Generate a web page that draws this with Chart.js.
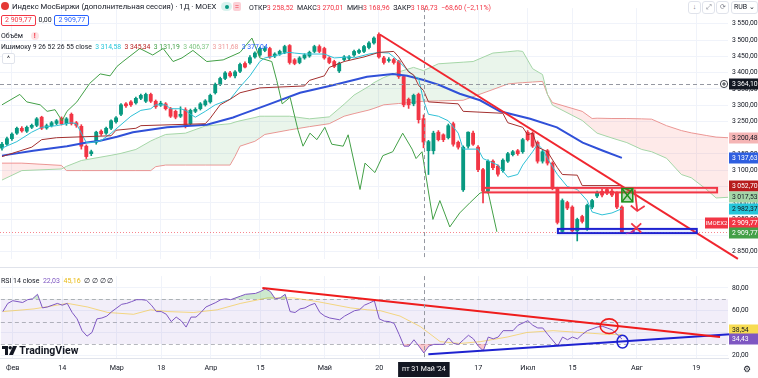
<!DOCTYPE html>
<html lang="ru">
<head>
<meta charset="utf-8">
<title>Индекс МосБиржи — 1Д</title>
<script src="https://cdn.jsdelivr.net/npm/chart.js@4.4.1/dist/chart.umd.min.js"></script>
<style>
  html, body { margin: 0; padding: 0; background: #fff; }
  body { position: relative; width: 758px; height: 378px; overflow: hidden;
         font-family: Roboto, "Noto Sans", sans-serif; color: #131722; }
  canvas { position: absolute; left: 0; }
  #priceChart { top: 0; }
  #rsiChart { top: 268px; }
  #divider { position: absolute; left: 0; top: 267px; width: 758px; height: 1px; background: #e0e3eb; }
  .t { position: absolute; white-space: nowrap; font-size: 7.5px; line-height: 10px; }
  .box { display: inline-block; border: 1px solid; border-radius: 2px; padding: 0 3px; line-height: 9px; }
  .btn { position: absolute; top: 1px; height: 11px; border: 1px solid #e0e3eb; border-radius: 3px; background: #fff;
         font-size: 7px; line-height: 11px; text-align: center; color: #787b86; }
</style>
</head>
<body>
<canvas id="priceChart" width="758" height="267"></canvas>
<div id="divider"></div>
<canvas id="rsiChart" width="758" height="110"></canvas>

<!-- Legend: main series -->
<div class="t" style="left:1px;top:2px;font-size:7.7px;">
  <span style="display:inline-block;width:8px;height:8px;border-radius:50%;background:#e53935;vertical-align:-1px;margin-right:1px;"></span>
  Индекс МосБиржи (дополнительная сессия) · 1Д · MOEX</div>
<span style="position:absolute;left:221px;top:2px;width:11px;height:9px;border-radius:5px;background:#d9f2ee;"><span style="position:absolute;left:4px;top:2.5px;width:4px;height:4px;border-radius:50%;background:#089981;"></span></span>
<span style="position:absolute;left:233px;top:2px;width:8px;height:9px;border-radius:2px;background:#fbd0d6;color:#f23645;font-size:8px;line-height:9px;text-align:center;">=</span>
<div class="t" style="left:249px;top:2.5px;font-size:7px;">
  ОТКР<span style="color:#f23645">3 258,52</span>&nbsp; МАКС<span style="color:#f23645">3 270,01</span>&nbsp; МИН<span style="color:#f23645">3 168,96</span>&nbsp; ЗАКР<span style="color:#f23645">3 186,73</span>&nbsp; <span style="color:#f23645">−68,60 (−2,11%)</span></div>
<div class="t" style="left:1px;top:15px;font-size:7px;">
  <span class="box" style="border-color:#f23645;color:#f23645;">2 909,77</span>
  <span style="margin:0 1px;">0,00</span>
  <span class="box" style="border-color:#2962ff;color:#2962ff;">2 909,77</span></div>
<div class="t" style="left:1px;top:31px;font-size:7px;">Объём
  <span style="display:inline-block;width:8px;height:8px;border-radius:50%;background:#fde2e4;color:#f23645;text-align:center;line-height:8px;font-weight:bold;margin-left:6px;">!</span></div>
<div class="t" style="left:1px;top:42px;font-size:6.8px;">Ишимоку 9 26 52 26 55 close&nbsp;
  <span style="color:#26c6da">3 314,58</span>&nbsp; <span style="color:#b71c1c">3 345,34</span>&nbsp; <span style="color:#43a047">3 131,19</span>&nbsp;
  <span style="color:#81c784">3 406,37</span>&nbsp; <span style="color:#ef9a9a">3 311,68</span>&nbsp; <span style="color:#2962ff">3 377,04</span></div>
<div style="position:absolute;left:2px;top:53px;width:11px;height:9px;border:1px solid #e0e3eb;border-radius:2px;background:#fff;font-size:7px;line-height:11px;text-align:center;color:#131722;">^</div>

<!-- top-right buttons -->
<div class="btn" style="left:688px;width:11px;">↓</div>
<div class="btn" style="left:702px;width:11px;">⤢</div>
<div class="btn" style="left:716px;width:11px;">⟳</div>
<div class="btn" style="left:731px;width:25px;color:#131722;">RUB ⌄</div>

<!-- Legend: RSI -->
<div class="t" style="left:1px;top:276px;font-size:7px;">RSI 14 close&nbsp;
  <span style="color:#7e57c2">22,03</span>&nbsp; <span style="color:#e8b90f">45,16</span>&nbsp; ∅ ∅ ∅ ∅</div>

<!-- TradingView mark -->
<div class="t" style="left:2px;top:345px;font-size:10.5px;line-height:12px;font-weight:bold;">
  <svg width="15" height="9" viewBox="0 0 15 9" style="vertical-align:-0.5px;"><path d="M0 0h6v9H3V3H0z" fill="#131722"/><circle cx="8.2" cy="1.7" r="1.7" fill="#131722"/><path d="M11 0h4l-4 9H7z" fill="#131722"/></svg>
  TradingView</div>
<div class="t" style="left:743px;top:364px;font-size:9px;color:#131722;">⚙</div>

<script>
// Индекс МосБиржи, 1Д: свечи + Ишимоку + RSI

const FONT = 'Roboto, "Noto Sans", sans-serif';
Chart.defaults.font.family = FONT;
const UP = '#089981';
const DOWN = '#f23645';

// x axis: trading-day index, 0 = 30 Jan 2024
const xMin = -0.4;
const xMax = 146.4;
const tickIdx = [2, 12, 23, 32, 42, 52, 65, 76, 96, 106, 115, 128, 140];
const tickText = ['Фев', '14', 'Мар', '18', 'Апр', '15', 'Май', '20', '17', 'Июл', '15', 'Авг', '19'];
const crossIdx = 85;
const crossDate = "пт 31 Май '24";
const crossPrice = 3364.10;
const lastPrice = 2909.77;

// price scale
const priceMin = 2827.8;
const priceMax = 3598.1;
const priceTicks = [2850, 2900, 2950, 3000, 3050, 3100, 3150, 3200, 3250, 3300, 3350, 3400, 3450, 3500, 3550];

// Candles (OHLC)
const opens = [3168,3180,3197,3214,3229,3220,3232,3238,3263,3230,3237,3244,3260,3243,3272,3246,3235,3174,3151,3186,
  3220,3214,3229,3249,3272,3304,3310,3307,3321,3312,3333,3312,3300,3304,3289,3281,3266,3286,3243,3281,
  3289,3301,3310,3338,3364,3382,3399,3390,3404,3428,3430,3448,3454,3468,3474,3451,3457,3462,3483,3439,
  3431,3445,3451,3465,3480,3474,3445,3434,3405,3440,3444,3454,3462,3465,3477,3491,3517,3445,3437,3440,
  3434,3388,3318,3304,3333,3258.52,3160,3160,3217,3209,3200,3243,3186,3040,3174,3214,3171,3102,3036,3128,
  3113,3099,3128,3148,3160,3157,3217,3214,3186,3128,3160,3122,3044,2912,3001,2987,2914,2958,2920,2987,
  3021,3035,3041,3036,3030,2987];
const highs = [3186,3202,3215,3233,3234,3236,3242,3262,3266,3242,3250,3256,3264,3262,3276,3250,3240,3178,3162,3220,
  3224,3233,3255,3265,3305,3308,3314,3325,3334,3337,3337,3316,3312,3308,3293,3285,3295,3292,3288,3292,
  3308,3317,3334,3368,3386,3403,3404,3406,3429,3433,3452,3464,3478,3480,3478,3461,3469,3484,3486,3443,
  3449,3458,3466,3484,3485,3478,3449,3438,3432,3452,3452,3469,3472,3484,3495,3510,3522,3450,3446,3444,
  3438,3392,3322,3334,3337,3270.01,3192,3220,3222,3212,3242,3248,3190,3175,3218,3220,3176,3106,3132,3132,
  3117,3135,3155,3161,3164,3198,3222,3218,3190,3161,3164,3126,3048,3012,3005,2991,2953,2962,2996,3011,
  3036,3042,3046,3042,3034,2991];
const lows = [3162,3176,3192,3210,3217,3216,3228,3234,3225,3226,3233,3240,3239,3238,3239,3232,3165,3136,3145,3180,
  3207,3210,3225,3245,3268,3293,3296,3303,3317,3308,3308,3290,3296,3285,3262,3258,3262,3230,3238,3277,
  3285,3297,3306,3334,3360,3378,3386,3384,3400,3414,3426,3444,3450,3464,3444,3446,3453,3458,3426,3424,
  3427,3441,3447,3461,3461,3441,3427,3415,3400,3436,3440,3450,3458,3461,3473,3487,3444,3426,3432,3426,
  3382,3295,3290,3298,3245,3168.96,3087,3150,3190,3188,3196,3174,3165,3035,3168,3176,3096,3000,3030,3102,
  3082,3094,3124,3144,3146,3152,3190,3170,3122,3122,3116,3040,2935,2906,2979,2909,2883,2938,2915,2982,
  3016,3018,3025,3019,2982,2906];
const closes = [3180,3197,3211,3229,3221,3232,3238,3258,3229,3237,3246,3252,3243,3258,3243,3238,3174,3142,3157,3217,
  3212,3229,3252,3261,3301,3298,3301,3321,3330,3333,3312,3295,3306,3289,3266,3263,3272,3238,3284,3287,
  3304,3313,3330,3364,3382,3399,3390,3402,3425,3417,3446,3460,3474,3474,3448,3457,3465,3480,3431,3428,
  3445,3454,3462,3480,3465,3445,3431,3419,3428,3448,3448,3465,3468,3480,3491,3506,3448,3431,3440,3431,
  3388,3301,3301,3330,3255.33,3186.73,3188,3214,3194,3194,3237,3180,3171,3171,3217,3180,3102,3036,3128,3108,
  3088,3131,3151,3157,3151,3194,3194,3174,3128,3157,3122,3044,2940,3007,2984,2914,2949,2943,2992,3007,
  3030,3024,3030,3024,2987,2909.77];

// Ichimoku lines
const tenkanIdx = [0,3,6,8,11,14,15,16,17,18,20,22,24,26,28,30,31,33,34,36,37,38,39,41,43,46,48,50,52,53,
  55,57,58,59,61,65,67,70,71,74,76,78,79,80,82,83,84,85,86,88,90,92,93,96,97,100,102,104,105,107,
  108,109,110,112,114,116,118,119,121,123,125];
const tenkanVal = [3168,3188,3217,3232,3237,3246,3243,3214,3185,3185,3191,3214,3240,3266,3284,3289,3301,3301,3289,3289,
  3284,3272,3263,3281,3301,3318,3356,3390,3434,3445,3451,3460,3462,3460,3457,3457,3445,3448,3445,3457,
  3462,3460,3448,3434,3405,3390,3382,3315,3272,3266,3252,3214,3165,3165,3136,3116,3079,3087,3116,3157,
  3180,3165,3136,3087,3050,3041,3007,2972,2963,2969,2982];
const kijunIdx = [0,6,8,11,22,23,27,28,41,42,44,46,48,52,61,62,65,66,69,73,
  76,79,80,82,83,84,85,86,92,93,101,102,105,106,107,108,110,112,113,116,117,125];
const kijunVal = [3142,3171,3194,3200,3206,3223,3229,3237,3243,3260,3301,3318,3338,3353,3359,3376,3390,3416,3434,3448,
  3462,3465,3448,3402,3393,3361,3345,3310,3304,3281,3275,3246,3232,3209,3214,3171,3157,3108,3087,3085,3053,3053];
const blueIdx = [0,6.3,13.1,17.1,19.8,23.2,26.4,33.3,41.3,46.6,48,53.4,60.1,66.7,73.6,78.8,81.7,85,88.3,92.3,
  96.4,100.4,106.5,111.9,117.1,121.2,125];
const blueVal = [3145,3160,3174,3185,3191,3203,3217,3232,3240,3262,3270,3300,3338,3361,3387,3396,3390,3377,3361,3335,
  3315,3281,3258,3232,3185,3160,3138];
const lagIdx = [0,3.6,5,7.7,9.1,10.7,12.1,13.1,15.1,17.7,19.8,21.8,23.2,24.4,27.8,30.4,32.5,34.5,36.3,38.5,
  41.3,44.6,48,50.4,52,54.4,55.4,56.5,58.1,59.7,60.7,62.1,63.5,65.1,66.5,68.8,69.8,72.2,73.2,75.2,
  76.8,78.8,80.8,82.7,83.5,84.7,86.9,88.3,90.3,92.3,94.4,96.4,98,99.8];
const lagVal = [3301,3333,3310,3301,3281,3286,3252,3281,3310,3367,3396,3390,3419,3434,3474,3454,3474,3434,3445,3468,
  3434,3439,3462,3506,3445,3434,3376,3304,3324,3223,3174,3214,3194,3232,3180,3174,3209,3041,3122,3093,
  3145,3157,3214,3165,3136,3157,2949,3007,2926,2969,3001,3030,3035,2911];
const cloudIdx = [0,4,12,13,16,22,24,27,30,31,33,37,41,46,47,48,51,52,53,58,
  62,66,69,71,74,75,77,80,83,85,88,93,95,99,102,104,105,107,109,110,
  111,117,119,120,123,126,129,131,134,137,139,142,144,146.4];
const spanA = [3070,3099,3104,3112,3130,3146,3152,3164,3190,3197,3210,3214,3236,3243,3248,3252,3262,3266,3266,3266,
  3258,3264,3303,3331,3358,3369,3385,3402,3416,3406,3427,3432,3434,3460,3464,3467,3465,3412,3394,3333,
  3300,3253,3227,3214,3199,3185,3164,3157,3137,3087,3077,3042,3015,3017];
const spanB = [3122,3122,3115,3099,3099,3099,3099,3099,3099,3111,3116,3116,3116,3116,3143,3174,3189,3199,3210,3224,
  3234,3243,3266,3274,3285,3290,3301,3305,3309,3312,3313,3315,3326,3348,3365,3368,3369,3371,3373,3333,
  3308,3281,3259,3260,3259,3259,3258,3257,3237,3222,3215,3207,3202,3200];

// Drawings on the price pane
const trendIdx = [76.2, 148.4];
const trendVal = [3517, 2828];
const resistZone = [97, 144.2, 3032, 3046];      // from, to, low, high
const supportZone = [112.1, 140.1, 2907, 2920];
const greenMark = [125, 127.2, 3003, 3044];
const arrowShaft = [[127.6, 3041], [128.1, 2975]];
const arrowHead = [[126.8, 2992], [128.1, 2975], [129.6, 2990]];
const crossA = [[126.9, 2937], [128.9, 2909]];
const crossB = [[126.9, 2909], [128.9, 2937]];
const purpleTick = [[125.8, 2905], [127.6, 2913]];

// Right-axis value tags
const priceTagValues = [3364.10, 3200.48, 3137.63, 3052.70, 3017.53, 2982.37, 2909.77, 2909.77];

// RSI pane
const rsiMin = 17.55;
const rsiMax = 90.54;
const rsiTicks = [20, 40, 60, 80];
const rsiLevels = [70, 50, 30];
const rsiIdx = [0,1,2,4,5,6,7,8,9,11,12,13,14,15,16,17,18,19,20,21,
  22,24,25,26,27,28,29,30,31,32,33,34,35,36,37,38,39,40,41,43,
  44,45,46,48,49,51,52,53,54,55,56,57,58,59,60,61,62,63,64,65,
  66,68,69,71,72,73,74,75,76,77,78,79,80,81,82,83,84,85,86,87,
  89,90,91,92,93,94,95,96,97,98,99,100,101,103,104,106,107,108,109,110,
  112,113,114,115,116,117,118,120,121,122,123,124,125];
const rsiVal = [58.9,66.2,68.6,67,69.5,70.3,74.3,62.2,63,66.2,64.6,66.2,58.1,52.4,41.9,37,40.3,52.4,53.2,54.9,
  58.9,65.4,66.2,67.8,69.5,69.5,69,64.6,58.9,58.9,56.5,50,54,50.8,45.1,54,54,58.1,63,67,
  69.5,70.3,69.5,72.7,74.3,75.1,76.8,79.2,76.8,70.3,71.1,74.3,58.9,58.1,61.3,62.2,64.6,66.2,58.1,54.9,
  53.2,51.6,54.9,59.7,60.5,64.6,66.5,68.6,52.4,50.4,50,48.4,38.6,28.1,28.1,33.8,28.1,22.03,28.1,29.7,
  29.7,35.4,30.5,29.7,33.8,37.8,34.6,28.1,24,36.2,34.6,36.2,41.9,41.9,46.7,50.8,46.7,44.3,44.3,38.6,
  28.1,36.2,33.8,36.2,34.6,38.6,41.9,45.1,45.9,44.3,42.7,38.6,34.43];
const maIdx = [0,6.3,13.1,17.1,21.2,26.4,29.8,33.3,38.5,43.3,48,53.4,58.7,63.5,70.2,73.6,76.2,80.2,84.3,88.3,
  92.3,96.4,101.8,105.8,111.1,116.5,122,125];
const maVal = [58.9,61.3,66.2,63,58.1,56.5,60.5,58.9,58.1,60.5,66.2,71.1,71.1,67.8,62.2,60.5,59.7,54.9,45.5,32.1,
  30.5,32.1,36.2,40.3,41.9,40.3,38.6,38.54];
const rsiResIdx = [52.4, 144.8];
const rsiResVal = [80, 36.2];
const rsiSupIdx = [85.9, 152.2];
const rsiSupVal = [20.8, 40.3];
const redLoop = [122.4, 45.9, 1.8, 6.5];   // center idx, center value, half-width, half-height
const blueLoop = [125.1, 32.1, 1.1, 5.7];
const rsiTagValues = [38.54, 34.43];

// Helpers
const pts = (xs, ys) => xs.map((x, i) => ({ x, y: ys[i] }));
const fmtNum = v => {
  const [a, b] = v.toFixed(2).split('.');
  return a.replace(/\B(?=(\d{3})+(?!\d))/g, '\u2009') + ',' + b;
};
const lineDs = (label, data, color, width, order, extra = {}) => ({
  type: 'line', label, data, borderColor: color, borderWidth: width,
  pointRadius: 0, tension: 0, fill: false, order, ...extra
});
const strokePath = (ctx, list) => {
  ctx.beginPath();
  list.forEach(([px, py], k) => k ? ctx.lineTo(px, py) : ctx.moveTo(px, py));
  ctx.stroke();
};
const drawTag = (ctx, a, cy, text, bg, fg) => {
  ctx.fillStyle = bg;
  ctx.fillRect(a.right + 1, cy - 5.5, 29, 11);
  ctx.fillStyle = fg;
  ctx.font = '6.8px ' + FONT;
  ctx.textAlign = 'left';
  ctx.textBaseline = 'middle';
  ctx.fillText(text, a.right + 4, cy + 0.5);
};

const candleColors = closes.map((c, i) => c >= opens[i] ? UP : DOWN);

// Price pane drawings
const pricePanePlugin = {
  id: 'pricePane',
  afterDatasetsDraw(chart) {
    const { ctx, chartArea: a, scales: { x, y } } = chart;
    const P = ([i, v]) => [x.getPixelForValue(i), y.getPixelForValue(v)];
    ctx.save();
    ctx.lineWidth = 1;

    // last price line
    ctx.setLineDash([1, 2]);
    ctx.strokeStyle = 'rgba(242,54,69,0.6)';
    const yl = Math.round(y.getPixelForValue(lastPrice)) + 0.5;
    strokePath(ctx, [[a.left, yl], [a.right, yl]]);

    // crosshair
    ctx.setLineDash([4, 3]);
    ctx.strokeStyle = '#9598a1';
    const xc = Math.round(x.getPixelForValue(crossIdx)) + 0.5;
    const yc = Math.round(y.getPixelForValue(crossPrice)) + 0.5;
    strokePath(ctx, [[xc, a.top], [xc, a.bottom]]);
    strokePath(ctx, [[a.left, yc], [a.right, yc]]);
    ctx.setLineDash([]);

    // zones
    const zone = (z, stroke, fill) => {
      const [x0, y0] = P([z[0], z[3]]);
      const [x1, y1] = P([z[1], z[2]]);
      ctx.fillStyle = fill;
      ctx.fillRect(x0, y0, x1 - x0, y1 - y0);
      ctx.lineWidth = 2;
      ctx.strokeStyle = stroke;
      ctx.strokeRect(x0, y0, x1 - x0, y1 - y0);
    };
    zone(resistZone, '#f23645', 'rgba(242,54,69,0.12)');
    zone(supportZone, '#1e22d0', 'rgba(41,98,255,0.12)');

    // green mark
    const [g0x, g0y] = P([greenMark[0], greenMark[3]]);
    const [g1x, g1y] = P([greenMark[1], greenMark[2]]);
    ctx.fillStyle = 'rgba(26,143,26,0.3)';
    ctx.fillRect(g0x, g0y, g1x - g0x, g1y - g0y);
    ctx.strokeStyle = '#1a8f1a';
    ctx.lineWidth = 1.5;
    ctx.strokeRect(g0x, g0y, g1x - g0x, g1y - g0y);
    strokePath(ctx, [[g0x, g0y], [g1x, g1y]]);
    strokePath(ctx, [[g1x, g0y], [g0x, g1y]]);

    // arrow and cross
    ctx.strokeStyle = '#f23645';
    ctx.lineWidth = 1.8;
    strokePath(ctx, arrowShaft.map(P));
    strokePath(ctx, arrowHead.map(P));
    strokePath(ctx, crossA.map(P));
    strokePath(ctx, crossB.map(P));
    ctx.strokeStyle = '#9c27b0';
    ctx.lineWidth = 1.2;
    strokePath(ctx, purpleTick.map(P));
    ctx.restore();
  },
  afterDraw(chart) {
    const { ctx, chartArea: a, scales: { y } } = chart;
    const tagStyle = [
      ['#131722', '#ffffff', 0], ['#f5b5b5', '#131722', 0], ['#2f5fe0', '#ffffff', 0],
      ['#b71c1c', '#ffffff', 0], ['#a5d6a7', '#131722', 0], ['#26c6da', '#131722', 0],
      ['#f23645', '#ffffff', -9], ['#43a047', '#ffffff', 1]
    ];
    ctx.save();
    priceTagValues.forEach((v, k) => {
      const [bg, fg, dy] = tagStyle[k];
      drawTag(ctx, a, Math.round(y.getPixelForValue(v)) + dy, fmtNum(v), bg, fg);
    });
    // crosshair "+" button
    const yc = Math.round(y.getPixelForValue(crossPrice));
    ctx.fillStyle = '#ffffff';
    ctx.strokeStyle = '#131722';
    ctx.lineWidth = 0.8;
    ctx.beginPath();
    ctx.arc(a.right - 4, yc, 3.6, 0, Math.PI * 2);
    ctx.fill();
    ctx.stroke();
    strokePath(ctx, [[a.right - 6, yc], [a.right - 2, yc]]);
    strokePath(ctx, [[a.right - 4, yc - 2], [a.right - 4, yc + 2]]);
    // symbol tag
    const yr = Math.round(y.getPixelForValue(lastPrice)) - 9;
    ctx.fillStyle = '#f23645';
    ctx.fillRect(a.right - 23, yr - 5.5, 23, 11);
    ctx.fillStyle = '#ffffff';
    ctx.font = '6px ' + FONT;
    ctx.textAlign = 'center';
    ctx.textBaseline = 'middle';
    ctx.fillText('IMOEX2', a.right - 11.5, yr + 0.5);
    ctx.restore();
  }
};

// RSI pane drawings
const rsiPanePlugin = {
  id: 'rsiPane',
  beforeDatasetsDraw(chart) {
    const { ctx, chartArea: a, scales: { y } } = chart;
    ctx.save();
    const yTop = y.getPixelForValue(rsiLevels[0]);
    const yBot = y.getPixelForValue(rsiLevels[2]);
    ctx.fillStyle = 'rgba(126,87,194,0.1)';
    ctx.fillRect(a.left, yTop, a.right - a.left, yBot - yTop);
    ctx.strokeStyle = 'rgba(120,123,134,0.55)';
    ctx.lineWidth = 1;
    ctx.setLineDash([4, 3]);
    rsiLevels.forEach(v => {
      const yy = Math.round(y.getPixelForValue(v)) + 0.5;
      strokePath(ctx, [[a.left, yy], [a.right, yy]]);
    });
    ctx.restore();
  },
  afterDatasetsDraw(chart) {
    const { ctx, chartArea: a, scales: { x, y } } = chart;
    ctx.save();
    ctx.strokeStyle = '#9598a1';
    ctx.lineWidth = 1;
    ctx.setLineDash([4, 3]);
    const xc = Math.round(x.getPixelForValue(crossIdx)) + 0.5;
    strokePath(ctx, [[xc, a.top], [xc, a.bottom]]);
    ctx.setLineDash([]);
    const loop = (l, color) => {
      const cx = x.getPixelForValue(l[0]);
      const cy = y.getPixelForValue(l[1]);
      const rx = Math.abs(x.getPixelForValue(l[0] + l[2]) - cx);
      const ry = Math.abs(y.getPixelForValue(l[1] + l[3]) - cy);
      ctx.strokeStyle = color;
      ctx.lineWidth = 1.6;
      ctx.beginPath();
      ctx.ellipse(cx, cy, rx, ry, 0, 0, Math.PI * 2);
      ctx.stroke();
    };
    loop(redLoop, '#ef1c1c');
    loop(blueLoop, '#1e22d0');
    ctx.restore();
  },
  afterDraw(chart) {
    const { ctx, chartArea: a, scales: { x, y } } = chart;
    const tagStyle = [['#f7dc52', '#131722', -4], ['#7e57c2', '#ffffff', 0]];
    ctx.save();
    rsiTagValues.forEach((v, k) => {
      const [bg, fg, dy] = tagStyle[k];
      drawTag(ctx, a, Math.round(y.getPixelForValue(v)) + dy, fmtNum(v), bg, fg);
    });
    // crosshair date label
    const xc = x.getPixelForValue(crossIdx);
    ctx.font = '7px ' + FONT;
    const w = ctx.measureText(crossDate).width + 8;
    ctx.fillStyle = '#131722';
    ctx.fillRect(xc - w / 2, a.bottom + 4, w, 15);
    ctx.fillStyle = '#ffffff';
    ctx.textAlign = 'center';
    ctx.textBaseline = 'middle';
    ctx.fillText(crossDate, xc, a.bottom + 11.5);
    ctx.restore();
  }
};

const xScaleBase = {
  type: 'linear', min: xMin, max: xMax, offset: false,
  grid: { color: '#f0f3fa', drawTicks: false, offset: false },
  afterBuildTicks: s => { s.ticks = tickIdx.map(v => ({ value: v })); }
};

// Chart: price + Ichimoku
const priceChart = new Chart(document.getElementById('priceChart'), {
  type: 'bar',
  data: {
    datasets: [
      lineDs('Leading span A', pts(cloudIdx, spanA), '#a5d6a7', 1, 9,
        { fill: { target: '+1', above: 'rgba(67,160,71,0.11)', below: 'rgba(244,67,54,0.11)' } }),
      lineDs('Leading span B', pts(cloudIdx, spanB), '#ef9a9a', 1, 9),
      {
        type: 'bar', label: 'wicks', data: lows.map((l, i) => ({ x: i, y: [l, highs[i]] })),
        backgroundColor: candleColors, barThickness: 1, grouped: false, order: 6
      },
      {
        type: 'bar', label: 'bodies', data: opens.map((o, i) => ({ x: i, y: [o, closes[i]] })),
        backgroundColor: candleColors, barThickness: 3.2, minBarLength: 1, grouped: false, order: 5
      },
      lineDs('Lagging span', pts(lagIdx, lagVal), '#43a047', 1, 3),
      lineDs('MA 55', pts(blueIdx, blueVal), '#3050d8', 2, 3),
      lineDs('Base line', pts(kijunIdx, kijunVal), '#a3302f', 1, 2),
      lineDs('Conversion line', pts(tenkanIdx, tenkanVal), '#2fc0d6', 1, 2),
      lineDs('Trend', pts(trendIdx, trendVal), '#f0262f', 2, 0, { clip: false })
    ]
  },
  options: {
    responsive: false,
    animation: false,
    events: [],
    layout: { padding: 0, autoPadding: false },
    plugins: { legend: { display: false }, tooltip: { enabled: false } },
    scales: {
      x: {
        ...xScaleBase,
        border: { display: false },
        ticks: { display: false },
        afterFit: s => { s.height = 0; }
      },
      y: {
        position: 'right', min: priceMin, max: priceMax,
        grid: { color: '#f0f3fa', drawTicks: false },
        border: { display: false },
        ticks: { padding: 4, color: '#131722', font: { size: 6.8 }, autoSkip: false, callback: v => fmtNum(v) },
        afterBuildTicks: s => { s.ticks = priceTicks.map(v => ({ value: v })); },
        afterFit: s => { s.width = 30; }
      }
    }
  },
  plugins: [pricePanePlugin]
});

// Chart: RSI
const rsiChart = new Chart(document.getElementById('rsiChart'), {
  type: 'line',
  data: {
    datasets: [
      lineDs('RSI', pts(rsiIdx, rsiVal), '#7e57c2', 1, 1,
        { fill: { target: { value: 70 }, above: 'rgba(76,175,80,0.28)', below: 'rgba(0,0,0,0)' } }),
      lineDs('RSI oversold', pts(rsiIdx, rsiVal), 'rgba(0,0,0,0)', 0, 2,
        { fill: { target: { value: 30 }, above: 'rgba(0,0,0,0)', below: 'rgba(242,54,69,0.28)' } }),
      lineDs('RSI MA', pts(maIdx, maVal), 'rgba(244,196,48,0.6)', 1, 3),
      lineDs('RSI resistance', pts(rsiResIdx, rsiResVal), '#ef1c1c', 2, 0, { clip: false }),
      lineDs('RSI support', pts(rsiSupIdx, rsiSupVal), '#1e22d0', 2, 0, { clip: false })
    ]
  },
  options: {
    responsive: false,
    animation: false,
    events: [],
    layout: { padding: 0, autoPadding: false },
    plugins: { legend: { display: false }, tooltip: { enabled: false } },
    scales: {
      x: {
        ...xScaleBase,
        border: { display: true, color: '#e0e3eb' },
        ticks: { color: '#131722', font: { size: 7.2 }, padding: 6, maxRotation: 0, autoSkip: false,
                 callback: (v, i) => tickText[i] },
        afterFit: s => { s.height = 20; }
      },
      y: {
        position: 'right', min: rsiMin, max: rsiMax,
        grid: { color: '#f0f3fa', drawTicks: false },
        border: { display: false },
        ticks: { padding: 4, color: '#131722', font: { size: 6.8 }, autoSkip: false, callback: v => fmtNum(v) },
        afterBuildTicks: s => { s.ticks = rsiTicks.map(v => ({ value: v })); },
        afterFit: s => { s.width = 30; }
      }
    }
  },
  plugins: [rsiPanePlugin]
});
</script>
</body>
</html>
